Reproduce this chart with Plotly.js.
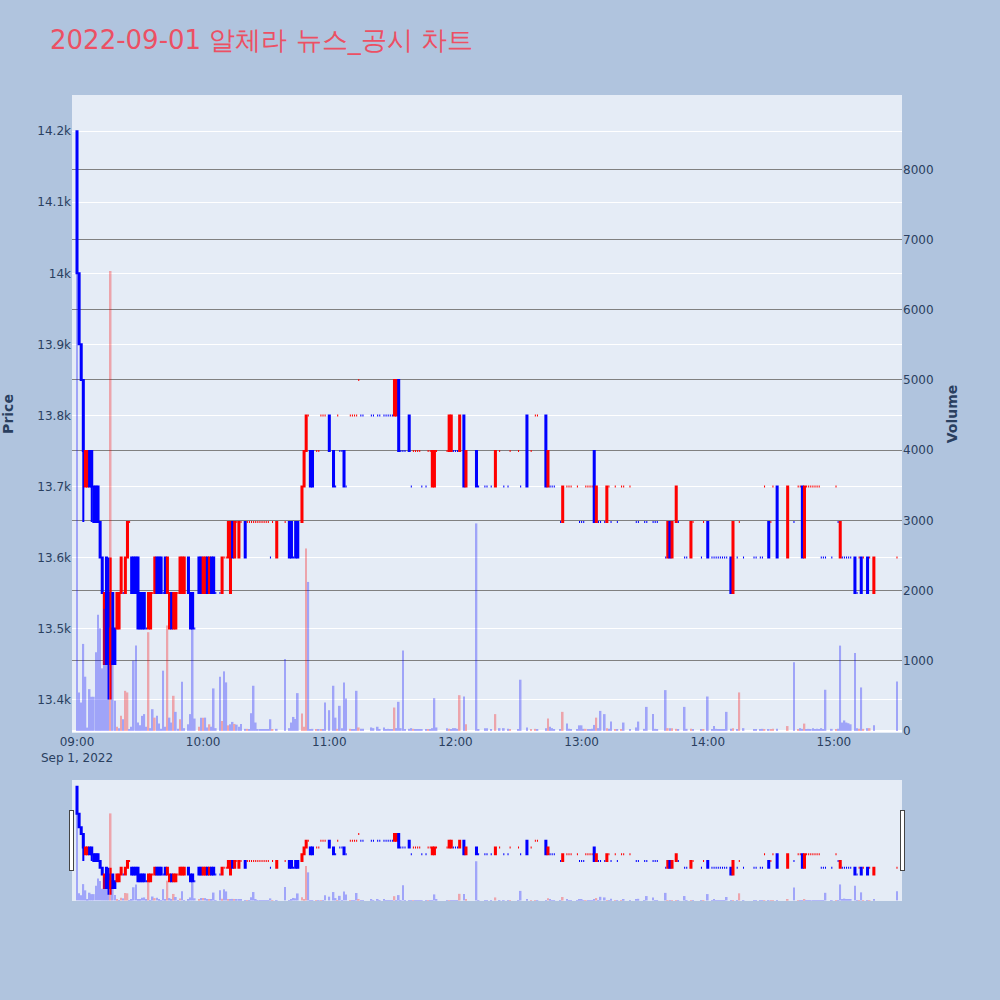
<!DOCTYPE html>
<html>
<head>
<meta charset="utf-8">
<script src="https://cdn.plot.ly/plotly-3.0.1.min.js"></script>
<style>html,body{margin:0;padding:0;background:#B0C4DE;}#chart{width:1000px;height:1000px;}</style>
</head>
<body>
<div id="chart"></div>
<script>
// minutes after 09:00 on 2022-09-01 for each traded minute
const minuteOfSession = [
0,1,2,3,4,5,6,7,8,9,
10,11,12,13,14,15,16,17,18,19,
20,21,22,23,24,25,26,27,28,29,
30,31,32,33,34,35,36,37,38,39,
40,41,42,43,44,45,46,47,48,49,
50,51,53,54,55,56,58,59,60,61,
62,63,64,65,66,68,69,70,71,72,
73,74,75,76,77,78,80,81,82,83,
84,85,86,87,88,89,90,91,92,93,
95,99,101,102,103,104,105,107,108,109,
110,111,112,114,115,116,117,118,120,122,
123,124,125,126,127,128,130,131,132,133,
134,135,136,140,141,143,144,146,147,148,
149,150,151,152,153,154,155,156,158,159,
160,161,162,163,164,166,167,168,169,170,
171,176,177,178,179,180,181,182,184,185,
190,191,194,195,197,199,201,203,205,206,
210,211,214,216,218,219,223,224,225,226,
227,230,231,233,234,235,238,239,240,241,
242,243,244,245,246,247,248,249,251,252,
253,254,256,257,259,260,263,266,267,270,
271,274,275,276,280,281,282,283,285,286,
289,290,292,293,297,298,300,302,303,304,
305,306,307,308,309,311,312,314,315,317,
322,323,325,326,327,329,330,331,333,338,
341,343,344,345,346,347,348,349,350,351,
352,353,354,355,356,359,361,362,363,364,
365,366,367,368,370,371,372,373,374,376,
377,379,390];

const openPrice = [
14200,14000,13900,13850,13700,13700,13750,13750,13700,13700,
13700,13650,13600,13450,13600,13550,13450,13550,13500,13500,
13500,13550,13550,13550,13600,13650,13600,13600,13600,13600,
13550,13550,13550,13500,13500,13500,13550,13550,13600,13600,
13600,13550,13600,13550,13500,13550,13500,13500,13550,13550,
13550,13550,13600,13550,13550,13500,13600,13600,13550,13550,
13600,13550,13600,13600,13550,13550,13550,13600,13600,13600,
13550,13650,13600,13650,13600,13650,13650,13650,13650,13650,
13650,13650,13650,13650,13650,13650,13650,13650,13600,13650,
13600,13650,13650,13650,13600,13650,13650,13650,13700,13750,
13800,13750,13750,13750,13750,13800,13800,13800,13800,13750,
13700,13800,13750,13750,13750,13700,13800,13800,13800,13800,
13850,13800,13800,13800,13800,13800,13800,13800,13800,13800,
13800,13800,13800,13800,13850,13750,13750,13750,13800,13700,
13750,13750,13750,13750,13700,13700,13750,13750,13700,13700,
13750,13750,13750,13750,13750,13750,13750,13750,13800,13700,
13750,13700,13700,13700,13700,13700,13750,13700,13700,13750,
13750,13700,13800,13750,13800,13800,13800,13700,13700,13700,
13700,13650,13650,13700,13700,13700,13700,13650,13650,13650,
13700,13700,13700,13700,13750,13650,13650,13650,13650,13650,
13700,13650,13700,13650,13700,13700,13700,13650,13650,13650,
13650,13650,13650,13650,13600,13600,13650,13600,13650,13650,
13600,13600,13600,13650,13600,13650,13650,13600,13600,13600,
13600,13600,13600,13600,13600,13600,13550,13600,13650,13600,
13600,13600,13600,13600,13700,13650,13650,13700,13700,13600,
13650,13700,13700,13700,13600,13700,13700,13700,13700,13700,
13700,13700,13600,13600,13600,13600,13700,13650,13600,13600,
13600,13600,13600,13600,13600,13550,13600,13600,13600,13600,
13600,13550,13600];

const highPrice = [
14200,14000,13900,13850,13750,13750,13750,13750,13700,13700,
13700,13650,13600,13550,13600,13600,13600,13550,13500,13550,
13550,13600,13550,13600,13650,13650,13600,13600,13600,13600,
13550,13550,13550,13500,13550,13550,13550,13600,13600,13600,
13600,13550,13600,13600,13550,13550,13550,13550,13550,13600,
13600,13600,13600,13550,13550,13500,13600,13600,13600,13600,
13600,13600,13600,13600,13550,13550,13600,13600,13600,13650,
13650,13650,13650,13650,13650,13650,13650,13650,13650,13650,
13650,13650,13650,13650,13650,13650,13650,13650,13600,13650,
13650,13650,13650,13650,13600,13650,13650,13700,13750,13800,
13800,13750,13750,13750,13750,13800,13800,13800,13800,13750,
13700,13800,13750,13750,13750,13700,13800,13800,13800,13800,
13850,13800,13800,13800,13800,13800,13800,13800,13800,13800,
13800,13800,13850,13850,13850,13750,13750,13750,13800,13700,
13750,13750,13750,13750,13700,13700,13750,13750,13750,13750,
13750,13750,13800,13800,13750,13750,13750,13800,13800,13750,
13750,13700,13700,13700,13700,13750,13750,13700,13700,13750,
13750,13700,13800,13750,13800,13800,13800,13750,13700,13700,
13700,13650,13700,13700,13700,13700,13700,13650,13650,13650,
13700,13700,13700,13700,13750,13700,13650,13650,13650,13700,
13700,13650,13700,13650,13700,13700,13700,13650,13650,13650,
13650,13650,13650,13650,13600,13650,13650,13650,13700,13650,
13600,13600,13650,13650,13600,13650,13650,13600,13600,13600,
13600,13600,13600,13600,13600,13600,13650,13600,13650,13600,
13600,13600,13600,13600,13700,13650,13650,13700,13700,13700,
13650,13700,13700,13700,13700,13700,13700,13700,13700,13700,
13700,13700,13600,13600,13600,13600,13700,13650,13650,13600,
13600,13600,13600,13600,13600,13550,13600,13600,13600,13600,
13600,13600,13600];

const lowPrice = [
14000,13900,13850,13650,13700,13700,13700,13650,13650,13650,
13650,13600,13550,13450,13450,13400,13400,13450,13450,13500,
13500,13550,13550,13550,13600,13650,13550,13550,13550,13500,
13500,13500,13500,13500,13500,13500,13550,13550,13550,13550,
13550,13550,13550,13550,13500,13500,13500,13500,13550,13550,
13550,13550,13550,13500,13500,13500,13550,13550,13550,13550,
13550,13550,13550,13550,13550,13550,13550,13600,13600,13600,
13550,13600,13600,13650,13600,13650,13600,13650,13650,13650,
13650,13650,13650,13650,13650,13650,13650,13650,13600,13650,
13600,13650,13600,13600,13600,13600,13600,13650,13700,13750,
13800,13700,13700,13750,13750,13800,13800,13800,13750,13700,
13700,13800,13750,13750,13700,13700,13800,13800,13800,13800,
13850,13800,13800,13800,13800,13800,13800,13800,13800,13800,
13800,13800,13800,13800,13750,13750,13750,13750,13750,13700,
13750,13750,13750,13750,13700,13700,13750,13750,13700,13700,
13750,13750,13750,13750,13750,13750,13750,13750,13700,13700,
13700,13700,13700,13700,13700,13700,13750,13700,13700,13750,
13750,13700,13700,13750,13800,13800,13700,13700,13700,13700,
13700,13650,13650,13700,13700,13700,13700,13650,13650,13650,
13700,13700,13700,13700,13650,13650,13650,13650,13650,13650,
13700,13650,13700,13650,13700,13700,13700,13650,13650,13650,
13650,13650,13650,13650,13600,13600,13600,13600,13650,13650,
13600,13600,13600,13650,13600,13650,13600,13600,13600,13600,
13600,13600,13600,13600,13600,13550,13550,13600,13650,13600,
13600,13600,13600,13600,13700,13600,13650,13700,13600,13600,
13650,13700,13700,13600,13600,13700,13700,13700,13700,13700,
13700,13700,13600,13600,13600,13600,13700,13650,13600,13600,
13600,13600,13600,13600,13550,13550,13600,13550,13600,13550,
13600,13550,13600];

const closePrice = [
14000,13900,13850,13750,13750,13750,13700,13700,13650,13650,
13650,13600,13550,13550,13450,13450,13500,13450,13450,13550,
13550,13600,13550,13600,13650,13650,13550,13550,13550,13500,
13500,13500,13500,13500,13550,13550,13550,13600,13550,13550,
13550,13550,13550,13600,13550,13500,13550,13550,13550,13600,
13600,13600,13550,13500,13500,13500,13550,13550,13600,13600,
13550,13600,13550,13550,13550,13550,13600,13600,13600,13650,
13650,13600,13650,13650,13650,13650,13600,13650,13650,13650,
13650,13650,13650,13650,13650,13650,13650,13650,13600,13650,
13650,13650,13600,13600,13600,13600,13600,13700,13750,13800,
13800,13700,13700,13750,13750,13800,13800,13800,13750,13700,
13700,13800,13750,13750,13700,13700,13800,13800,13800,13800,
13850,13800,13800,13800,13800,13800,13800,13800,13800,13800,
13800,13800,13850,13850,13750,13750,13750,13750,13750,13700,
13750,13750,13750,13750,13700,13700,13750,13750,13750,13750,
13750,13750,13800,13800,13750,13750,13750,13800,13700,13750,
13700,13700,13700,13700,13700,13750,13750,13700,13700,13750,
13750,13700,13700,13750,13800,13800,13700,13750,13700,13700,
13700,13650,13700,13700,13700,13700,13700,13650,13650,13650,
13700,13700,13700,13700,13650,13700,13650,13650,13650,13700,
13700,13650,13700,13650,13700,13700,13700,13650,13650,13650,
13650,13650,13650,13650,13600,13650,13600,13650,13700,13650,
13600,13600,13650,13650,13600,13650,13600,13600,13600,13600,
13600,13600,13600,13600,13600,13550,13650,13600,13650,13600,
13600,13600,13600,13600,13700,13600,13650,13700,13600,13700,
13650,13700,13700,13600,13700,13700,13700,13700,13700,13700,
13700,13700,13600,13600,13600,13600,13700,13650,13650,13600,
13600,13600,13600,13600,13550,13550,13600,13550,13600,13550,
13600,13600,13600];

const volume = [
7500,549,405,1240,773,48,596,487,487,1121,
1655,1464,892,1741,1407,1884,6552,1000,430,60,
40,215,167,572,549,20,60,1002,1216,120,
80,215,240,60,1407,40,310,190,215,105,
30,859,60,1503,190,120,501,272,30,167,
701,40,95,240,1455,177,60,190,190,190,
50,95,60,606,40,773,143,849,692,80,
95,129,100,90,60,100,30,30,20,253,
644,120,20,20,20,20,20,20,167,20,
30,1025,40,120,200,170,539,248,60,2600,
2123,20,30,20,20,20,20,405,296,644,
190,30,358,40,692,463,30,20,20,572,
50,30,30,50,40,60,20,50,20,30,
20,20,334,40,415,40,1145,20,30,40,
30,20,20,20,20,20,20,20,40,467,
50,40,30,20,40,40,30,510,491,95,
2957,20,40,40,20,240,40,40,30,20,
20,730,50,20,30,20,40,176,60,40,
20,20,272,105,30,20,20,80,80,30,
30,20,20,30,86,190,40,286,240,40,
30,134,20,20,20,120,20,50,134,30,
343,240,30,20,582,40,40,40,30,20,
343,30,30,20,20,20,491,20,70,30,
20,20,20,20,272,30,40,20,549,40,
20,20,20,30,20,20,20,30,30,70,
978,20,40,30,105,20,30,20,40,20,
30,20,40,20,587,30,20,30,1216,120,
150,120,110,95,1111,40,30,620,30,40,
40,80,706];

// volume axis tick values shown on the right
const volumeTicks = [0, 1000, 2000, 3000, 4000, 5000, 6000, 7000, 8000];

const chartTitle = '2022-09-01 알체라 뉴스_공시 차트';

function pad(n){ return String(n).padStart(2,'0'); }
const times = minuteOfSession.map(m => '2022-09-01 ' + pad(9 + Math.floor(m/60)) + ':' + pad(m % 60) + ':00');

// volume colour: red when the close rose versus the previous close, otherwise blue
const volColors = closePrice.map((c, i) => (i > 0 && c > closePrice[i-1]) ? 'red' : 'blue');

const candle = {
  type: 'candlestick', x: times, open: openPrice, high: highPrice, low: lowPrice, close: closePrice,
  increasing: {line: {color: 'red'}, fillcolor: 'red'},
  decreasing: {line: {color: 'blue'}, fillcolor: 'blue'},
  yaxis: 'y', name: 'Price', showlegend: false
};
const bars = {
  type: 'bar', x: times, y: volume, yaxis: 'y2', name: 'Volume',
  marker: {color: volColors}, opacity: 0.3, showlegend: false
};

const layout = {
  width: 1000, height: 1000,
  paper_bgcolor: '#B0C4DE', plot_bgcolor: '#E5ECF6',
  font: {family: 'Verdana, "DejaVu Sans", sans-serif', size: 12, color: '#2a3f5f'},
  title: {text: chartTitle, x: 0.05, xanchor: 'left', y: 0.96, yanchor: 'middle',
          font: {size: 26, color: '#EC5064'}},
  margin: {l: 72, r: 98, t: 95, b: 100},
  showlegend: false,
  xaxis: {
    type: 'date', showgrid: false, zeroline: false,
    range: ['2022-09-01 08:57:37', '2022-09-01 15:32:23'],
    rangeslider: {visible: true}
  },
  yaxis: {
    title: {text: '<b>Price</b>', font: {size: 14}, standoff: 22},
    range: [13353, 14251], gridcolor: 'white', zeroline: false
  },
  yaxis2: {
    title: {text: '<b>Volume</b>', font: {size: 14}, standoff: 14},
    overlaying: 'y', side: 'right', range: [-29, 9060],
    tickmode: 'array', tickvals: volumeTicks,
    showgrid: true, gridcolor: 'gray', zeroline: true, zerolinecolor: 'white', zerolinewidth: 2
  }
};

Plotly.newPlot('chart', [candle, bars], layout, {displayModeBar: false});
</script>
</body>
</html>
